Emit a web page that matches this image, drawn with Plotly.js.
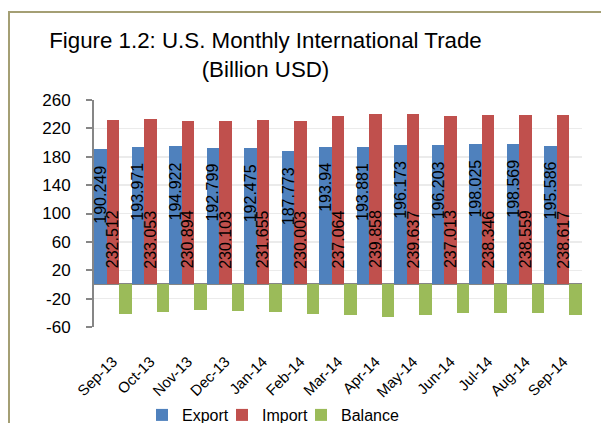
<!DOCTYPE html>
<html><head><meta charset="utf-8">
<script src="https://cdn.plot.ly/plotly-3.0.1.min.js"></script>
<style>
html,body{margin:0;padding:0;background:#fff;overflow:hidden;}
#chart{width:601px;height:423px;}
#frame{position:absolute;left:8px;top:11px;width:593px;height:412px;border-left:2px solid #a49f74;border-top:2px solid #a49f74;pointer-events:none;box-sizing:border-box;}
</style>
</head><body>
<div id="chart"></div><div id="frame"></div>
<script>
const months = ["Sep-13","Oct-13","Nov-13","Dec-13","Jan-14","Feb-14","Mar-14","Apr-14","May-14","Jun-14","Jul-14","Aug-14","Sep-14"];
const exportVals = [190.249,193.971,194.922,192.799,192.475,187.773,193.94,193.881,196.173,196.203,198.025,198.569,195.586];
const importVals = [232.512,233.053,230.894,230.103,231.655,230.003,237.064,239.858,239.637,237.013,238.346,238.559,238.617];
const balanceVals = [-42.263,-39.082,-35.972,-37.304,-39.180,-42.230,-43.124,-45.977,-43.464,-40.810,-40.321,-39.990,-43.031];
const yTickVals = [-60,-20,20,60,100,140,180,220,260];
const yTickText = ["-60","-20","20","60","100","140","180","220","260"];
const yMin = -60, yMax = 260;

const FONT = "Liberation Sans, Arial, sans-serif";
const colors = {Export:"#4f81bd", Import:"#c0504d", Balance:"#9bbb59"};

const traces = [
  {type:"bar", name:"Export", x:months, y:exportVals, marker:{color:colors.Export}, hoverinfo:"y", legend:"legend"},
  {type:"bar", name:"Import", x:months, y:importVals, marker:{color:colors.Import}, hoverinfo:"y", legend:"legend2"},
  {type:"bar", name:"Balance", x:months, y:balanceVals, marker:{color:colors.Balance}, hoverinfo:"y", legend:"legend3"}
];

const nSeries = 3;
const off = k => (k + 0.5) / nSeries - 0.5;

const annotations = [];
months.forEach((m, i) => {
  annotations.push({x:i + off(0), y:exportVals[i], xref:"x", yref:"y", text:String(exportVals[i]),
    textangle:-90, showarrow:false, yanchor:"top", xanchor:"center", yshift:-14,
    font:{family:FONT, size:16, color:"#000"}});
  annotations.push({x:i + off(1), y:0, xref:"x", yref:"y", text:String(importVals[i]),
    textangle:-90, showarrow:false, yanchor:"bottom", xanchor:"center", yshift:14,
    font:{family:FONT, size:16, color:"#000"}});
});

const boundaries = months.map((m, i) => i - 0.5).concat([months.length - 0.5]);

const legendBase = x => ({orientation:"h", x:x/601, xanchor:"left", xref:"container",
  y:1 - 415/423, yanchor:"middle", yref:"container",
  font:{family:FONT, size:16, color:"#000"}, itemwidth:30, bgcolor:"rgba(0,0,0,0)"});

const layout = {
  width:601, height:423,
  margin:{l:94, r:19, t:100, b:96, autoexpand:false},
  paper_bgcolor:"#fff", plot_bgcolor:"#fff",
  font:{family:FONT, color:"#000"},
  title:{text:"Figure 1.2: U.S. Monthly International Trade<br>(Billion USD)",
    x:265.5/601, xanchor:"center", xref:"container", y:1 - 48/423, yanchor:"top", yref:"container",
    font:{family:FONT, size:22.3, color:"#000"}, automargin:false},
  barmode:"group", bargap:0, bargroupgap:0,
  showlegend:true,
  legend:legendBase(142),
  legend2:legendBase(222),
  legend3:legendBase(301),
  xaxis:{type:"category", categoryarray:months, range:[-0.5, months.length - 0.5],
    showline:false, showgrid:false, zeroline:false, ticks:"", tickangle:-45,
    tickfont:{family:FONT, size:15, color:"#000"}, ticklabelstandoff:22, automargin:false},
  xaxis2:{overlaying:"x", anchor:"free", position:(0 - yMin)/(yMax - yMin), type:"linear",
    range:[-0.5, months.length - 0.5], tickmode:"array", tickvals:boundaries,
    ticks:"outside", ticklen:4, tickwidth:2, tickcolor:"#868686",
    showticklabels:false, showgrid:false, zeroline:false, showline:false},
  yaxis:{range:[yMin, yMax], tickmode:"array", tickvals:yTickVals, ticktext:yTickText,
    showgrid:true, gridcolor:"#ebebeb", gridwidth:1.5,
    showline:true, linecolor:"#868686", linewidth:2, ticks:"outside", ticklen:6, tickwidth:2, tickcolor:"#868686",
    zeroline:true, zerolinecolor:"#868686", zerolinewidth:2, ticklabelstandoff:12,
    tickfont:{family:FONT, size:17, color:"#000"}, automargin:false},
  annotations:annotations
};

Plotly.newPlot("chart", traces, layout, {displayModeBar:false, staticPlot:true});
</script>
</body></html>
